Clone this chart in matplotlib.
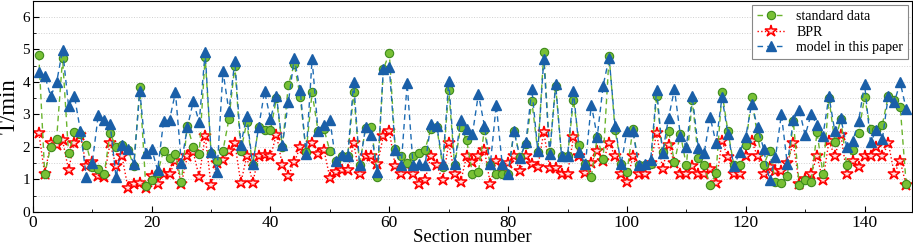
import numpy as np
import matplotlib.pyplot as plt
from matplotlib.ticker import MultipleLocator

plt.rcParams['font.family'] = ['Liberation Serif', 'DejaVu Serif']
plt.rcParams['mathtext.fontset'] = 'stix'

# section numbers 1..147
sections = list(range(1, 148))

standard = [4.83, 1.16, 2.0, 2.25, 4.73, 1.81, 2.45, 2.4, 2.07, 1.38,
            1.31, 1.16, 2.42, 2.0, 2.07, 1.92, 1.41, 3.83, 0.8, 0.97,
            1.2, 1.89, 1.67, 1.77, 0.92, 2.66, 2.0, 1.79, 4.78, 1.8,
            1.58, 1.89, 2.86, 4.5, 1.87, 2.76, 1.45, 2.6, 2.52, 2.52,
            3.5, 2.0, 3.9, 4.55, 3.55, 1.84, 3.68, 2.5, 2.55, 1.87,
            1.56, 1.71, 1.71, 3.68, 1.43, 2.59, 2.6, 1.07, 4.4, 4.88,
            1.94, 1.71, 1.5, 1.71, 1.81, 1.91, 2.55, 2.6, 1.38, 3.76,
            1.43, 2.62, 2.22, 1.18, 1.23, 2.52, 1.43, 1.16, 1.16, 1.18,
            2.5, 1.69, 2.1, 3.4, 1.84, 4.91, 1.84, 3.88, 1.71, 1.71,
            3.45, 2.07, 1.48, 1.07, 2.3, 1.64, 4.8, 2.52, 1.48, 1.23,
            2.55, 1.43, 1.43, 1.48, 3.58, 1.84, 2.5, 1.53, 2.4, 1.43,
            3.45, 1.67, 1.43, 0.82, 1.2, 3.68, 2.48, 1.43, 1.45, 2.07,
            3.53, 2.3, 1.43, 1.89, 0.92, 0.9, 1.1, 2.8, 0.82, 0.98,
            0.92, 2.45, 1.16, 3.5, 2.15, 2.85, 1.43, 1.91, 2.42, 3.53,
            2.55, 2.52, 2.69, 3.58, 3.45, 3.24, 0.87]

bpr = [2.43, 1.16, 2.12, 2.05, 2.2, 1.3, 2.12, 2.38, 1.41, 1.53,
       1.1, 1.07, 2.12, 1.41, 1.71, 0.75, 0.87, 0.89, 0.74, 1.1,
       0.87, 1.16, 1.16, 1.58, 0.87, 1.71, 1.84, 1.07, 2.35, 0.82,
       1.5, 1.6, 1.89, 2.12, 0.89, 1.71, 0.89, 1.71, 1.74, 1.71,
       2.38, 1.43, 1.12, 1.53, 2.0, 1.79, 2.12, 1.77, 1.91, 1.04,
       1.23, 1.28, 1.28, 2.12, 1.16, 1.71, 1.71, 1.46, 2.35, 2.48,
       1.41, 1.18, 1.43, 1.18, 0.87, 0.97, 1.71, 1.43, 0.97, 2.12,
       1.18, 0.92, 1.71, 1.53, 1.71, 1.91, 0.87, 1.56, 1.2, 1.5,
       1.71, 1.26, 1.71, 1.46, 1.38, 2.45, 1.36, 1.36, 1.18, 1.18,
       2.3, 1.71, 1.2, 1.5, 1.87, 1.56, 2.12, 1.71, 1.18, 0.92,
       1.71, 1.16, 1.16, 1.5, 2.42, 1.33, 2.07, 1.5, 1.16, 1.16,
       1.41, 1.16, 1.16, 1.33, 0.89, 2.17, 1.69, 1.16, 1.16, 1.71,
       2.17, 1.71, 1.18, 1.38, 1.26, 1.26, 1.5, 2.12, 0.87, 1.02,
       1.16, 1.71, 0.97, 2.17, 1.71, 2.38, 1.18, 1.56, 1.38, 1.71,
       1.71, 2.0, 1.71, 2.12, 1.18, 1.56, 0.82]

model = [4.31, 4.19, 3.56, 3.99, 4.99, 3.27, 3.56, 2.5, 1.07, 1.51,
         2.97, 2.84, 2.71, 1.07, 2.07, 1.94, 1.48, 3.73, 1.81, 1.94,
         1.28, 2.79, 2.83, 3.68, 1.5, 2.6, 3.4, 2.76, 4.91, 1.84,
         1.23, 4.33, 3.1, 4.65, 2.07, 2.94, 1.46, 2.6, 3.71, 2.86,
         3.58, 2.07, 3.37, 4.73, 3.74, 1.77, 4.7, 2.5, 2.69, 2.83,
         1.56, 1.74, 1.71, 3.99, 1.43, 2.6, 2.38, 1.23, 4.4, 4.45,
         1.91, 1.43, 3.96, 1.43, 1.48, 1.43, 2.72, 2.66, 1.48, 4.04,
         1.48, 2.83, 2.55, 2.4, 3.63, 2.66, 1.46, 3.3, 1.48, 1.16,
         2.48, 1.66, 2.15, 3.78, 1.87, 4.7, 1.79, 3.94, 1.71, 1.71,
         3.71, 1.84, 1.46, 3.3, 2.32, 3.89, 4.75, 2.66, 1.46, 2.48,
         2.48, 1.43, 1.46, 1.6, 3.76, 1.81, 2.89, 3.78, 2.35, 2.0,
         3.56, 1.98, 1.81, 2.92, 2.12, 3.53, 2.4, 1.41, 1.84, 2.32,
         3.32, 2.6, 1.95, 0.97, 1.69, 3.0, 1.47, 2.83, 3.15, 2.36,
         3.0, 2.68, 2.35, 3.56, 2.48, 2.89, 2.0, 2.17, 2.79, 3.94,
         2.15, 2.52, 2.25, 3.58, 3.37, 3.99, 3.17]

fig = plt.figure(figsize=(9.13, 2.47), dpi=100)
ax = fig.add_axes([0.036, 0.142, 0.963, 0.855])

ax.plot(sections, standard, linestyle='--', color='#6ab42d', lw=1.0,
        dashes=(4, 3), marker='o', ms=6, mfc='#78c035', mec='#3d8a1c',
        mew=0.8, label='standard data', zorder=3)
ax.plot(sections, bpr, linestyle=':', color='red', lw=1.0,
        marker='*', ms=9, mfc='#ffe0e0', mec='red', mew=1.1,
        label='BPR', zorder=2)
ax.plot(sections, model, linestyle='--', color='#1e6cb4', lw=1.0,
        dashes=(4, 3), marker='^', ms=6.5, mfc='#1a5fa8', mec='#1a5fa8',
        label='model in this paper', zorder=4)

ax.set_xlim(0, 148)
ax.set_ylim(0, 6.5)
ax.xaxis.set_major_locator(MultipleLocator(20))
ax.xaxis.set_minor_locator(MultipleLocator(10))
ax.yaxis.set_major_locator(MultipleLocator(1))
ax.yaxis.set_minor_locator(MultipleLocator(0.5))
ax.tick_params(which='both', direction='in', top=False, right=False)
ax.tick_params(which='major', length=4)
ax.tick_params(which='minor', length=2.5)
ax.tick_params(axis='x', labelsize=12.5, pad=2)
ax.tick_params(axis='y', labelsize=11, pad=2)

ax.grid(True, which='both', axis='y', linestyle=':', color='#d0d0d0', lw=0.7)
ax.set_axisbelow(True)

ax.set_xlabel('Section number', fontsize=13.5, labelpad=-1)
ax.set_ylabel('T/min', fontsize=16.5, labelpad=2)

leg = ax.legend(loc='upper right', fontsize=10, frameon=True, fancybox=False,
                edgecolor='#888888', framealpha=1, borderpad=0.35,
                labelspacing=0.2, handlelength=2.0, handletextpad=0.8,
                borderaxespad=0.3)
leg.get_frame().set_linewidth(0.8)

fig.savefig('out.png', dpi=100)
